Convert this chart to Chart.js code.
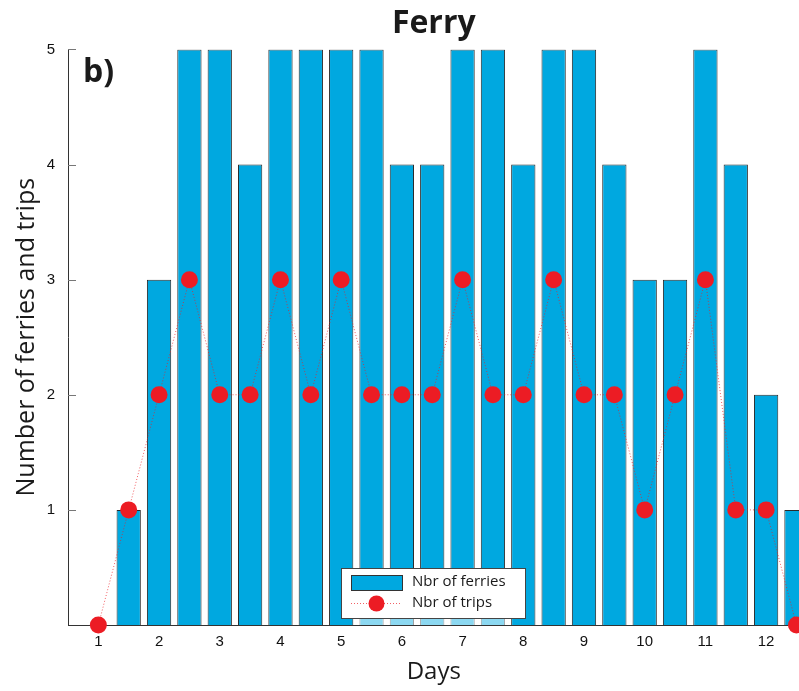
<!DOCTYPE html>
<html>
<head>
<meta charset="utf-8">
<script src="https://cdn.jsdelivr.net/npm/chart.js@4.4.1/dist/chart.umd.min.js"></script>
<style>
  html, body { margin: 0; padding: 0; overflow: hidden; background: #fff; }
</style>
</head>
<body>
<canvas id="ferryChart" width="808" height="691"></canvas>
<script>
// Data
const days = [1, 1.5, 2, 2.5, 3, 3.5, 4, 4.5, 5, 5.5, 6, 6.5, 7, 7.5, 8, 8.5, 9, 9.5, 10, 10.5, 11, 11.5, 12, 12.5];
const ferries = [0, 1, 3, 5, 5, 4, 5, 5, 5, 5, 4, 4, 5, 5, 4, 5, 5, 4, 3, 3, 5, 4, 2, 1];
const trips = [0, 1, 2, 3, 2, 2, 3, 2, 3, 2, 2, 2, 3, 2, 2, 3, 2, 2, 1, 2, 3, 1, 1, 0];
const dayTicks = [1, 2, 3, 4, 5, 6, 7, 8, 9, 10, 11, 12];
const countTicks = [1, 2, 3, 4, 5];

const barBlue = "rgb(0, 168, 224)";
const dotRed = "rgb(236, 28, 36)";

// inward tick marks, panel label and the legend box (MATLAB look)
const matlabBits = {
  id: "matlabBits",
  beforeDatasetsDraw(chart) {
    const { ctx, scales: { x } } = chart;
    const area = chart.chartArea;
    ctx.save();
    ctx.strokeStyle = "#555";
    ctx.lineWidth = 1;
    dayTicks.forEach((d) => {
      const px = Math.round(x.getPixelForValue(d)) + 0.5;
      ctx.beginPath();
      ctx.moveTo(px, area.bottom);
      ctx.lineTo(px, area.bottom - 7);
      ctx.stroke();
    });
    ctx.restore();
  },
  afterDraw(chart) {
    const { ctx, scales: { y } } = chart;
    const area = chart.chartArea;
    ctx.save();
    ctx.strokeStyle = "#777";
    ctx.lineWidth = 1;
    countTicks.forEach((v) => {
      const py = Math.round(y.getPixelForValue(v)) + 0.5;
      ctx.beginPath();
      ctx.moveTo(area.left, py);
      ctx.lineTo(area.left + 8, py);
      ctx.stroke();
    });

    // panel label
    ctx.fillStyle = "#1a1a1a";
    ctx.font = "bold 32px 'Open Sans'";
    ctx.textBaseline = "alphabetic";
    ctx.textAlign = "left";
    ctx.fillText("b)", 83, 82);

    // faint strip under the legend
    ctx.fillStyle = "rgba(255,255,255,0.55)";
    ctx.fillRect(357, 618, 150, area.bottom - 618);

    // legend
    const lx = 341, ly = 568, lw = 184, lh = 50;
    ctx.fillStyle = "#fff";
    ctx.fillRect(lx, ly, lw, lh);
    ctx.strokeStyle = "#444";
    ctx.strokeRect(lx + 0.5, ly + 0.5, lw, lh);

    const ds = chart.data.datasets;
    ctx.fillStyle = barBlue;
    ctx.fillRect(351, 575, 51, 15);
    ctx.strokeStyle = "#333";
    ctx.strokeRect(351.5, 575.5, 51, 15);

    ctx.strokeStyle = "rgba(236, 28, 36, 0.7)";
    ctx.setLineDash([1, 2]);
    ctx.beginPath();
    ctx.moveTo(351, 603.5);
    ctx.lineTo(402, 603.5);
    ctx.stroke();
    ctx.setLineDash([]);
    ctx.fillStyle = dotRed;
    ctx.beginPath();
    ctx.arc(376.5, 603.5, 8, 0, Math.PI * 2);
    ctx.fill();

    ctx.fillStyle = "#1a1a1a";
    ctx.font = "15px 'Open Sans'";
    ctx.textBaseline = "middle";
    ctx.fillText(ds[0].label, 412, 582);
    ctx.fillText(ds[1].label, 412, 603);
    ctx.restore();
  },
};

const ctxFerry = document.getElementById("ferryChart").getContext("2d");
const ferryChart = new Chart(ctxFerry, {
  type: "bar",
  data: {
    datasets: [
      {
        type: "bar",
        label: "Nbr of ferries",
        data: days.map((d, i) => ({ x: d, y: ferries[i] })),
        backgroundColor: barBlue,
        borderColor: "#2b2b2b",
        borderWidth: 1,
        borderSkipped: "bottom",
        barPercentage: 0.8,
        categoryPercentage: 1,
        order: 2,
      },
      {
        type: "line",
        label: "Nbr of trips",
        data: days.map((d, i) => ({ x: d, y: trips[i] })),
        borderColor: "rgba(236, 28, 36, 0.7)",
        borderWidth: 1,
        borderDash: [1, 2],
        backgroundColor: dotRed,
        pointBackgroundColor: dotRed,
        pointBorderWidth: 0,
        pointRadius: 8.5,
        tension: 0,
        clip: false,
        order: 1,
      },
    ],
  },
  options: {
    responsive: false,
    animation: false,
    layout: { padding: 0 },
    scales: {
      x: {
        type: "linear",
        min: 0.5,
        max: 12.55,
        offset: false,
        afterFit(scale) {
          scale.height = 66;
        },
        afterBuildTicks(scale) {
          scale.ticks = dayTicks.map((v) => ({ value: v }));
        },
        grid: { display: false },
        border: { display: true, color: "#333", width: 1 },
        ticks: {
          color: "#111",
          padding: 0,
          maxRotation: 0,
          autoSkip: false,
          font: { family: "Liberation Sans", size: 15 },
        },
        title: {
          display: true,
          text: "Days",
          color: "#1a1a1a",
          font: { family: "Open Sans", size: 24 },
          padding: { top: 0, bottom: 4 },
        },
      },
      y: {
        min: 0,
        max: 5,
        afterFit(scale) {
          scale.width = 68;
        },
        afterBuildTicks(scale) {
          scale.ticks = countTicks.map((v) => ({ value: v }));
        },
        grid: { display: false },
        border: { display: true, color: "#333", width: 1 },
        ticks: {
          color: "#111",
          padding: 5,
          font: { family: "Liberation Sans", size: 15 },
        },
        title: {
          display: true,
          text: "Number of ferries and trips",
          color: "#1a1a1a",
          font: { family: "Open Sans", size: 25 },
          padding: { top: 12, bottom: 0 },
        },
      },
    },
    plugins: {
      legend: { display: false },
      tooltip: { enabled: false },
      title: {
        display: true,
        fullSize: false,
        text: "Ferry",
        color: "#1a1a1a",
        font: { family: "Open Sans", size: 32, weight: "bold" },
        padding: { top: 5, bottom: 6 },
      },
    },
  },
  plugins: [matlabBits],
});
</script>
</body>
</html>
